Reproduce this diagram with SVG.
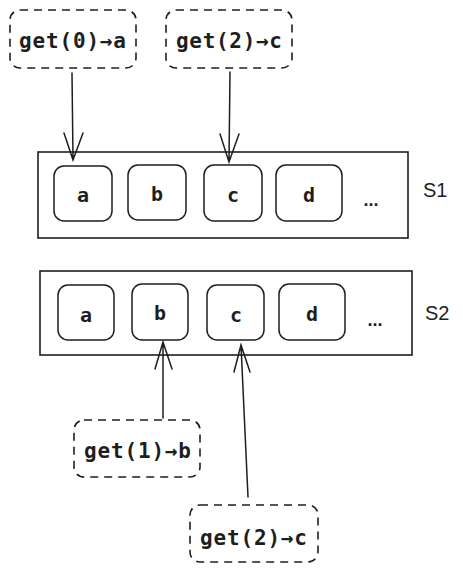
<svg xmlns="http://www.w3.org/2000/svg" width="463" height="572" viewBox="0 0 463 572">
<defs>
<style>
.bg{fill:#fff}
.call rect{fill:none;stroke:#1e1e1e;stroke-width:1.6;stroke-dasharray:8 6}
.cont{fill:none;stroke:#1e1e1e;stroke-width:1.6}
.cell{fill:none;stroke:#1e1e1e;stroke-width:1.5}
.ct{font-family:"DejaVu Sans Mono",monospace;font-size:21px;font-weight:600;fill:#1e1e1e}
.lt{font-family:"DejaVu Sans Mono",monospace;font-size:20px;font-weight:bold;fill:#1e1e1e;text-anchor:middle}
.dots{font-family:"Liberation Sans",sans-serif;font-size:18px;font-weight:bold;fill:#1e1e1e;text-anchor:middle}
.st{font-family:"Liberation Sans",sans-serif;font-size:20px;fill:#1e1e1e}
.con path{fill:none;stroke:#1e1e1e;stroke-width:1.5;stroke-linecap:round}
</style>
</defs>
<rect class="bg" width="463" height="572"/>
<g id="call-get0" class="call"><rect x="10" y="10" width="126" height="58" rx="10"/><text class="ct" x="19" y="48" textLength="107">get(0)→a</text></g>
<g id="call-get2-top" class="call"><rect x="166" y="10" width="126" height="58" rx="10"/><text class="ct" x="176" y="48" textLength="106">get(2)→c</text></g>
<g id="s1">
<rect class="cont" x="38" y="152" width="370" height="86"/>
<g id="s1-a"><rect class="cell" x="54" y="166" width="58" height="55" rx="10"/><text class="lt" x="83" y="202">a</text></g>
<g id="s1-b"><rect class="cell" x="128" y="165" width="58" height="55" rx="10"/><text class="lt" x="157" y="201">b</text></g>
<g id="s1-c"><rect class="cell" x="204" y="165" width="58" height="56" rx="10"/><text class="lt" x="233" y="202">c</text></g>
<g id="s1-d"><rect class="cell" x="276" y="165" width="66" height="56" rx="10"/><text class="lt" x="309" y="202">d</text></g>
<text class="dots" x="371" y="206">...</text>
<text class="st" x="423" y="197">S1</text>
</g>
<g id="s2">
<rect class="cont" x="40" y="271" width="372" height="84"/>
<g id="s2-a"><rect class="cell" x="58" y="285" width="56" height="55" rx="10"/><text class="lt" x="86" y="322">a</text></g>
<g id="s2-b"><rect class="cell" x="132" y="284" width="56" height="56" rx="10"/><text class="lt" x="160" y="320">b</text></g>
<g id="s2-c"><rect class="cell" x="207" y="285" width="57" height="55" rx="10"/><text class="lt" x="236" y="322">c</text></g>
<g id="s2-d"><rect class="cell" x="279" y="284" width="66" height="56" rx="10"/><text class="lt" x="312" y="321">d</text></g>
<text class="dots" x="375" y="326">...</text>
<text class="st" x="425" y="320">S2</text>
</g>
<g id="call-get1" class="call"><rect x="74" y="420" width="126" height="57" rx="10"/><text class="ct" x="84" y="458" textLength="107">get(1)→b</text></g>
<g id="call-get2-bot" class="call"><rect x="190" y="505" width="128" height="57" rx="10"/><text class="ct" x="200" y="545" textLength="107">get(2)→c</text></g>
<g id="connectors" class="con">
<path d="M72 73 L73 160 M64 133 L73 160 L83 133"/>
<path d="M230 72 L229 162 M220 134 L229 162 L239 134"/>
<path d="M163 418 L163 342 M155 369 L163 342 L172 369"/>
<path d="M248 497 L241 345 M234 372 L241 345 L250 372"/>
</g>
</svg>
